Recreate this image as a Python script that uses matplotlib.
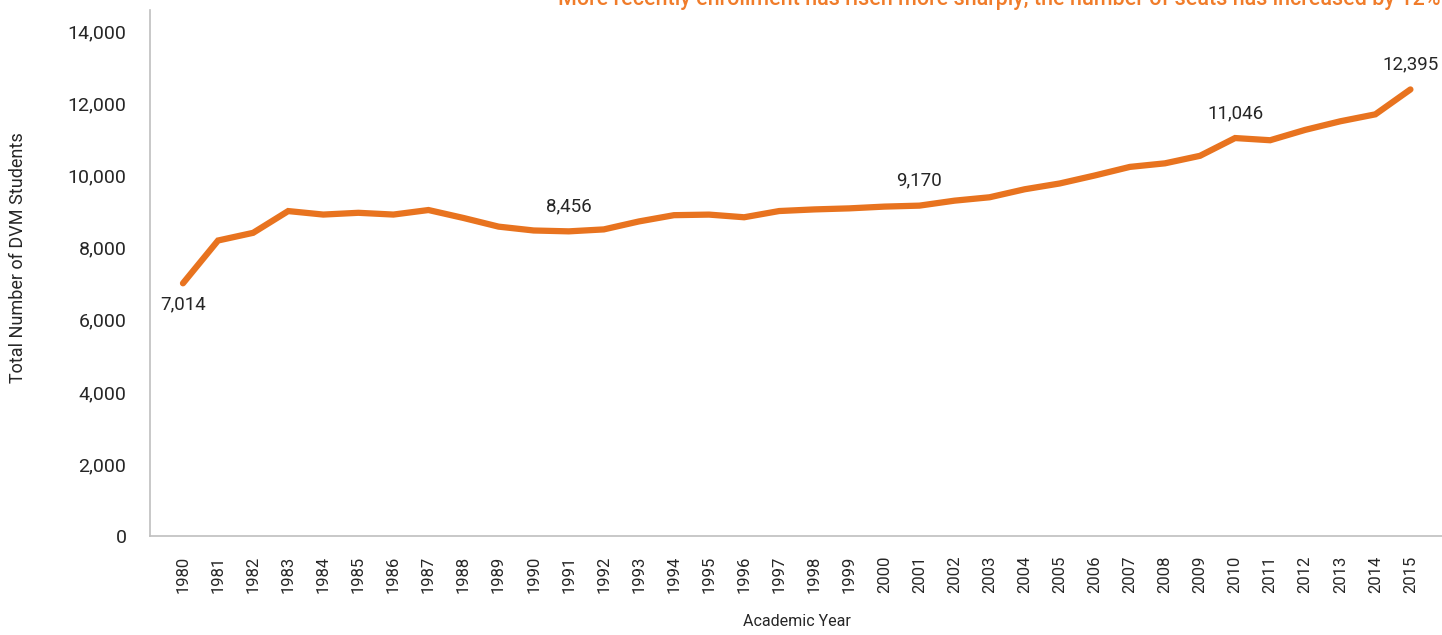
import matplotlib
matplotlib.use("Agg")
import matplotlib.pyplot as plt

years = list(range(1980, 2016))
students = [7014, 8202, 8415, 9019, 8922, 8971, 8922, 9048, 8827, 8587,
            8480, 8456, 8510, 8731, 8905, 8921, 8847, 9020, 9065, 9094,
            9143, 9170, 9308, 9402, 9624, 9785, 10007, 10245, 10344, 10553,
            11046, 10985, 11273, 11511, 11704, 12395]
labeled_years = [1980, 1991, 2001, 2010, 2015]
title_text = "More recently enrollment has risen more sharply, the number of seats has increased by 12%"

plt.rcParams['font.family'] = ['Roboto', 'DejaVu Sans']

fig = plt.figure(figsize=(14.42, 6.35), dpi=100)
ax = fig.add_axes([150/1442, (635-536)/635, 1 - 150/1442, (536-10)/635])

orange = '#E8731F'
x = list(range(len(years)))
ax.plot(x, students, color=orange, lw=4.5, solid_capstyle='round', solid_joinstyle='miter')

for yr in labeled_years:
    i = years.index(yr)
    v = students[i]
    dy = -15 if yr == 1980 else 18
    ax.annotate(f"{v:,}", (i, v), xytext=(0, dy), textcoords='offset points',
                ha='center', va='center', fontsize=13.5, color='#262626')

ax.set_xlim(-0.94, 35.9)
ax.set_ylim(0, 14600)
ax.set_yticks(range(0, 14001, 2000))
ax.set_yticklabels([f"{t:,}" for t in range(0, 14001, 2000)], fontsize=14, color='#262626')
ax.set_xticks(x)
ax.set_xticklabels([str(y) for y in years], rotation=90, fontsize=12, color='#262626')
ax.tick_params(axis='both', length=0)
ax.tick_params(axis='y', pad=17)
ax.tick_params(axis='x', pad=14)

for s in ['top', 'right']:
    ax.spines[s].set_visible(False)
for s in ['left', 'bottom']:
    ax.spines[s].set_color('#BFBFBF')
    ax.spines[s].set_linewidth(1.2)

fig.text(18/1442, 1 - 258/635, "Total Number of DVM Students", rotation=90,
         ha='center', va='center', fontsize=13, color='#262626')
fig.text(797/1442, 1 - 622/635, "Academic Year", ha='center', va='center',
         fontsize=11.5, color='#262626', fontstretch='condensed')
fig.text(1440/1442, 1 - 0/635, title_text, ha='right', va='center',
         fontsize=15.5, color='#F07C2A', fontweight='medium')

fig.savefig("out.png", dpi=100)
